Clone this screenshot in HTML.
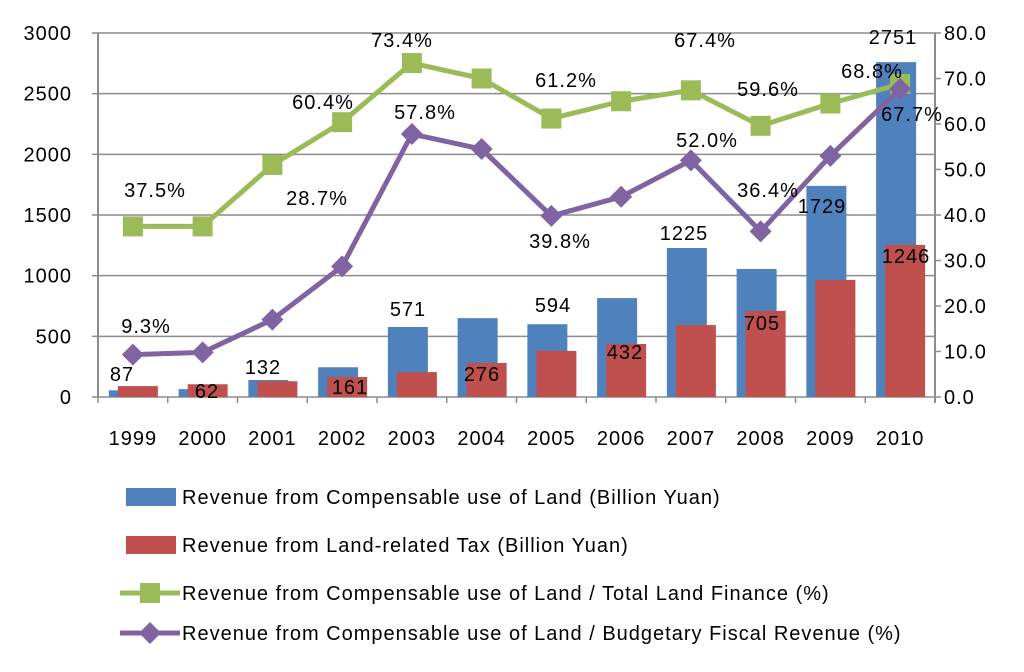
<!DOCTYPE html>
<html><head><meta charset="utf-8"><style>
body{margin:0;background:#fff}
svg text{font-family:"Liberation Sans",sans-serif;font-size:20px;letter-spacing:1px;fill:#000}
</style></head><body>
<svg id="c" width="1024" height="667" xmlns="http://www.w3.org/2000/svg"></svg>
<script>
const years=["1999","2000","2001","2002","2003","2004","2005","2006","2007","2008","2009","2010"];
const compensable=[55,65,140,245,577,650,600,815,1228,1055,1740,2760];
const landTax=[90,105,130,165,205,280,380,437,593,710,965,1253];
const shareTotal=[37.5,37.5,51,60.4,73.4,70,61.2,65,67.4,59.6,64.5,68.8];
const shareBudget=[9.3,9.8,17,28.7,57.8,54.5,39.8,44,52.0,36.4,53,67.7];
const leftTicks=[0,500,1000,1500,2000,2500,3000];
const rightTicks=[0,10,20,30,40,50,60,70,80];
const barLabels=[["87",122,380],["62",207,397],["132",263,373],["161",350,393],["571",408,315],["276",482,380],["594",553,311],["432",625,358],["1225",684,239],["705",762,329],["1729",822,212],["1246",906,262],["2751",893,43]];
const greenLabels=[["37.5%",155,196],["60.4%",323,108],["73.4%",402,46],["61.2%",566,86],["67.4%",705,46],["59.6%",768,95],["68.8%",872,77]];
const purpleLabels=[["9.3%",146,332],["28.7%",317,204],["57.8%",425,118],["39.8%",560,247],["52.0%",707,146],["36.4%",768,196],["67.7%",912,120]];
const svg=document.getElementById('c');const NS="http://www.w3.org/2000/svg";
function el(t,a,p){const e=document.createElementNS(NS,t);for(const k in a)e.setAttribute(k,a[k]);(p||svg).appendChild(e);return e;}
const L=98,R=935,T=33,B=397,bw=(R-L)/years.length;
const yl=v=>B-v/3000*(B-T), yr=v=>B-v/80*(B-T), xc=i=>L+bw*(i+0.5);
leftTicks.forEach(v=>{const g=el('line',{x1:L,x2:R,y1:yl(v),y2:yl(v),stroke:'#8c8c8c','stroke-width':1.5});

const t=el('text',{x:72,y:yl(v)+7,'text-anchor':'end'});t.textContent=v;

el('line',{x1:L-6,x2:L,y1:yl(v),y2:yl(v),stroke:'#8c8c8c','stroke-width':1.5});});
rightTicks.forEach(v=>{el('line',{x1:R,x2:R+6,y1:yr(v),y2:yr(v),stroke:'#8c8c8c','stroke-width':1.5});
const t=el('text',{x:944,y:yr(v)+7});t.textContent=v.toFixed(1);
});
el('line',{x1:L,x2:L,y1:T,y2:B,stroke:'#8c8c8c','stroke-width':2});
el('line',{x1:R,x2:R,y1:T,y2:B+6,stroke:'#8c8c8c','stroke-width':2});
years.forEach((y,i)=>{el('line',{x1:L+bw*i,x2:L+bw*i,y1:B,y2:B+6,stroke:'#8c8c8c','stroke-width':1.5});
const t=el('text',{x:xc(i),y:445,'text-anchor':'middle'});t.textContent=y;

const b=el('rect',{x:xc(i)-24,y:yl(compensable[i]),width:40,height:B-yl(compensable[i]),fill:'#4f81bd'});

const r=el('rect',{x:xc(i)-15,y:yl(landTax[i]),width:40,height:B-yl(landTax[i]),fill:'#c0504d'});
});
function line(vals,color,marker,name){
const p=el('polyline',{points:vals.map((v,i)=>xc(i)+','+yr(v)).join(' '),fill:'none',stroke:color,'stroke-width':5,'stroke-linejoin':'round'});

vals.forEach((v,i)=>{const x=xc(i),y=yr(v);let m;
if(marker==='sq')m=el('rect',{x:x-10,y:y-10,width:20,height:20,fill:color});
else m=el('polygon',{points:`${x},${y-11} ${x+11},${y} ${x},${y+11} ${x-11},${y}`,fill:color});
});}
line(shareTotal,'#9bbb59','sq','share-total');
line(shareBudget,'#8064a2','dia','share-budget');
[barLabels,greenLabels,purpleLabels].forEach(arr=>arr.forEach(([s,x,y])=>{const t=el('text',{x:x,y:y+1,'text-anchor':'middle'});t.textContent=s;
}));
const leg=[["Revenue from Compensable use of Land (Billion Yuan)",'#4f81bd','bar',497],
["Revenue from Land-related Tax (Billion Yuan)",'#c0504d','bar',545],
["Revenue from Compensable use of Land / Total Land Finance (%)",'#9bbb59','sq',593],
["Revenue from Compensable use of Land / Budgetary Fiscal Revenue (%)",'#8064a2','dia',633]];
leg.forEach(([s,c,k,y])=>{const g=el('g',{});
if(k==='bar')el('rect',{x:126,y:y-9,width:50,height:18,fill:c},g);
else{el('line',{x1:120,x2:180,y1:y,y2:y,stroke:c,'stroke-width':5},g);
if(k==='sq')el('rect',{x:140,y:y-10,width:20,height:20,fill:c},g);
else el('polygon',{points:`150,${y-11} 161,${y} 150,${y+11} 139,${y}`,fill:c},g);}
const t=el('text',{x:182,y:y+7},g);t.textContent=s;});
</script></body></html>
